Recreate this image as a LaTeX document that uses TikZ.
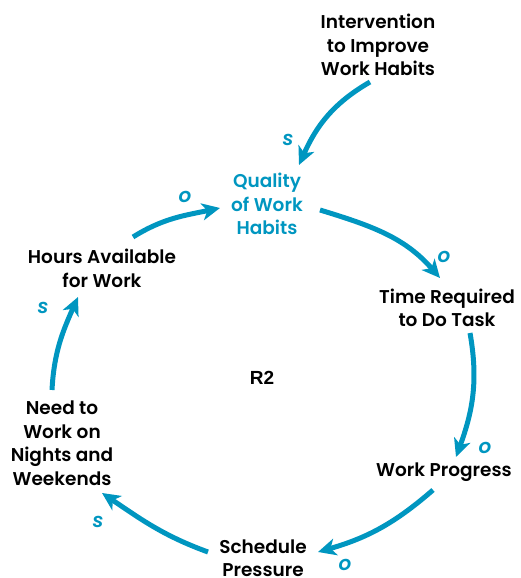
\documentclass[tikz,border=0pt]{standalone}
\usepackage{fontspec}
\setmainfont{Poppins SemiBold}
\newfontfamily\polfont{Poppins SemiBold Italic}
\newfontfamily\loopfont{Liberation Sans Bold}
\usetikzlibrary{arrows.meta}
\definecolor{loopblue}{RGB}{0,150,192}
\tikzset{
  var/.style={align=center, font=\fontsize{18.5}{23.5}\selectfont, text=black, inner sep=2pt},
  link/.style={draw=loopblue, line width=5pt, -{Stealth[length=18pt,width=17pt,inset=5pt]}},
  pol/.style={text=loopblue, font=\polfont\fontsize{20}{20}\selectfont, inner sep=0pt}
}
\begin{document}
\begin{tikzpicture}[x=1pt,y=1pt]
\useasboundingbox (0,0) rectangle (520,578);
% variables
\node[var] (int) at (378,533) {Intervention\\to Improve\\Work Habits};
\node[var, text=loopblue] (q) at (267,374) {Quality\\of Work\\Habits};
\node[var] (t) at (447,270) {Time Required\\to Do Task};
\node[var] (wp) at (444,106) {Work Progress};
\node[var] (sp) at (263,20) {Schedule\\Pressure};
\node[var] (need) at (62,135) {Need to\\Work on\\Nights and\\Weekends};
\node[var] (hours) at (102,309.5) {Hours Available\\for Work};
\node[var, font=\loopfont\fontsize{19}{19}\selectfont] (r2) at (262,200) {R2};
% causal links, each leaving and entering at a fixed offset from the node centre
\draw[link] ([shift={(-8,-37)}]int.center) to[out=210,in=66] ([shift={(32,39)}]q.center);
\draw[link] ([shift={(53,-6)}]q.center) to[out=-17,in=131] ([shift={(-7,30)}]t.center);
\draw[link] ([shift={(23,-25)}]t.center) to[out=-80,in=70] ([shift={(12,15)}]wp.center);
\draw[link] ([shift={(-11,-18)}]wp.center) to[out=221,in=16] ([shift={(55,6)}]sp.center);
\draw[link] ([shift={(-55,6)}]sp.center) to[out=160,in=-34] ([shift={(40,-50)}]need.center);
\draw[link] ([shift={(-10,53)}]need.center) to[out=87,in=246] ([shift={(-24,-28.5)}]hours.center);
\draw[link] ([shift={(31,31.5)}]hours.center) to[out=32,in=192] ([shift={(-47,-4)}]q.center);
% polarities
\node[pol] (p1) at (288,438) {s};
\node[pol] (p2) at (185,381) {o};
\node[pol] (p3) at (444,321) {o};
\node[pol] (p4) at (485,130) {o};
\node[pol] (p5) at (345,13) {o};
\node[pol] (p6) at (98,56) {s};
\node[pol] (p7) at (43,270) {s};
\end{tikzpicture}
\end{document}
